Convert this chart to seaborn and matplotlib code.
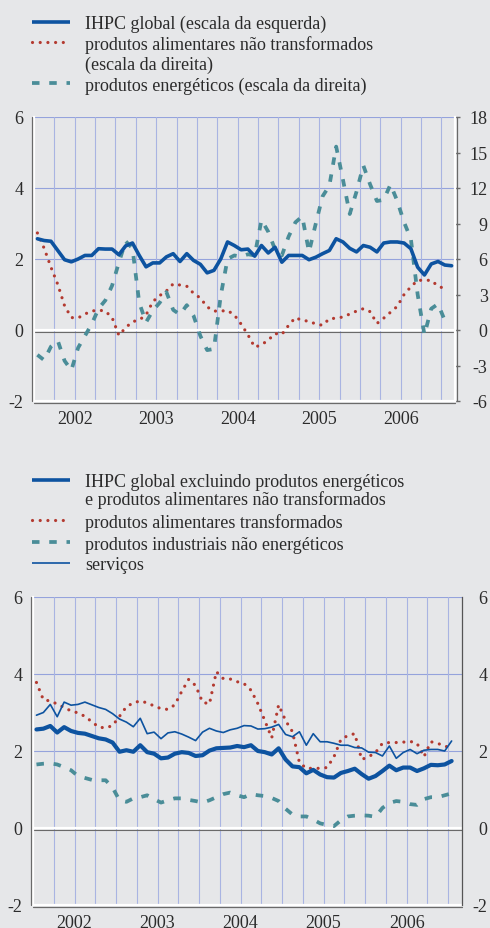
import numpy as np
import pandas as pd
import seaborn as sns
import matplotlib
matplotlib.use("Agg")
import matplotlib.pyplot as plt
import matplotlib.transforms as mtrans
from matplotlib.lines import Line2D

# ---------------- data (monthly, Jan 2002 onward) ----------------
years = ["2002", "2003", "2004", "2005", "2006"]

ihpc_global = [2.57, 2.52, 2.5, 2.24, 1.98, 1.92, 2.0, 2.1, 2.1, 2.29, 2.28, 2.28,
               2.12, 2.37, 2.45, 2.1, 1.78, 1.89, 1.89, 2.06, 2.15, 1.93, 2.15, 1.96,
               1.85, 1.61, 1.68, 2.0, 2.48, 2.38, 2.26, 2.28, 2.08, 2.38, 2.17, 2.33,
               1.91, 2.1, 2.1, 2.1, 1.98, 2.05, 2.15, 2.24, 2.57, 2.48, 2.3, 2.2,
               2.38, 2.33, 2.2, 2.45, 2.48, 2.48, 2.45, 2.29, 1.77, 1.55, 1.86, 1.93,
               1.83, 1.81]

alim_nao_transf = [8.2, 6.9, 5.3, 3.85, 2.05, 1.05, 1.02, 1.35, 1.6, 1.68, 1.6, 1.05,
                   -0.45, 0.2, 0.7, 0.85, 1.27, 2.4, 2.9, 3.3, 3.9, 3.8, 3.7, 3.1,
                   2.7, 1.95, 1.6, 1.6, 1.65, 1.27, 0.5, -0.4, -1.45, -1.25, -0.85, -0.3,
                   -0.38, 0.4, 1.05, 0.8, 0.75, 0.5, 0.4, 0.95, 1.0, 1.1, 1.35, 1.6,
                   1.8, 1.55, 0.55, 1.0, 1.5, 2.0, 3.0, 3.65, 4.2, 4.2, 4.2, 3.7,
                   3.5]

energeticos = [-2.1, -2.55, -1.4, -0.9, -2.6, -3.4, -1.5, -0.5, 0.5, 1.8, 2.5, 3.75,
               5.7, 7.5, 6.9, 2.3, 0.65, 1.65, 2.3, 3.2, 1.7, 1.3, 2.1, 1.2,
               -0.5, -1.7, -1.6, 2.9, 6.0, 6.3, 6.2, 6.4, 6.3, 9.3, 8.3, 6.8,
               6.3, 7.9, 9.1, 9.6, 6.6, 9.0, 11.3, 12.2, 15.5, 12.7, 9.8, 11.7,
               13.9, 12.3, 10.9, 11.0, 12.3, 10.9, 9.1, 7.7, 3.0, -0.4, 1.8, 2.2,
               0.8]

ihpc_core = [2.56, 2.58, 2.65, 2.48, 2.62, 2.52, 2.47, 2.45, 2.39, 2.33, 2.3, 2.22,
             1.98, 2.02, 1.98, 2.15, 1.97, 1.93, 1.81, 1.83, 1.93, 1.97, 1.95, 1.87,
             1.89, 2.01, 2.07, 2.08, 2.09, 2.13, 2.1, 2.15, 2.0, 1.97, 1.91, 2.07,
             1.78, 1.6, 1.58, 1.42, 1.51, 1.39, 1.32, 1.31, 1.43, 1.48, 1.54, 1.4,
             1.28, 1.35, 1.48, 1.62, 1.5, 1.57, 1.57, 1.48, 1.55, 1.64, 1.63, 1.65,
             1.74]

alim_transf = [3.78, 3.33, 3.3, 3.22, 3.13, 3.04, 2.99, 2.9, 2.76, 2.62, 2.6, 2.66,
               2.9, 3.15, 3.25, 3.3, 3.25, 3.17, 3.1, 3.08, 3.2, 3.55, 3.86, 3.7,
               3.27, 3.22, 4.06, 3.88, 3.87, 3.8, 3.75, 3.58, 3.23, 2.79, 2.34, 3.2,
               2.79, 2.5, 1.7, 1.55, 1.55, 1.55, 1.57, 1.85, 2.3, 2.4, 2.45, 1.78,
               1.85, 1.96, 2.2, 2.22, 2.22, 2.23, 2.25, 2.2, 1.85, 2.24, 2.2, 2.12,
               2.1]

industriais = [1.65, 1.67, 1.68, 1.65, 1.58, 1.5, 1.35, 1.3, 1.25, 1.24, 1.24, 1.05,
               0.72, 0.68, 0.77, 0.8, 0.85, 0.75, 0.66, 0.72, 0.77, 0.77, 0.73, 0.7,
               0.66, 0.72, 0.8, 0.88, 0.92, 0.85, 0.8, 0.88, 0.85, 0.83, 0.78, 0.7,
               0.5, 0.35, 0.3, 0.3, 0.22, 0.12, 0.08, 0.05, 0.2, 0.3, 0.32, 0.33,
               0.32, 0.29, 0.52, 0.65, 0.7, 0.68, 0.62, 0.6, 0.75, 0.8, 0.8, 0.85,
               0.9]

servicos = [2.93, 3.0, 3.21, 2.89, 3.27, 3.19, 3.21, 3.27, 3.2, 3.13, 3.08, 2.97,
            2.83, 2.75, 2.63, 2.85, 2.45, 2.49, 2.32, 2.47, 2.5, 2.44, 2.36, 2.27,
            2.49, 2.59, 2.52, 2.48, 2.55, 2.59, 2.66, 2.65, 2.57, 2.58, 2.62, 2.69,
            2.43, 2.37, 2.5, 2.15, 2.45, 2.24, 2.24, 2.2, 2.15, 2.15, 2.09, 2.08,
            1.97, 1.96, 1.87, 2.13, 1.81, 1.96, 2.04, 1.93, 2.02, 2.04, 2.04, 2.0,
            2.26]

left_ticks = [-2, 0, 2, 4, 6]
right_ticks_top = [-6, -3, 0, 3, 6, 9, 12, 15, 18]

legend_top = ["IHPC global (escala da esquerda)",
              "produtos alimentares não transformados\n(escala da direita)",
              "produtos energéticos (escala da direita)"]
legend_bot = ["IHPC global excluindo produtos energéticos\ne produtos alimentares não transformados",
              "produtos alimentares transformados",
              "produtos industriais não energéticos",
              "serviços"]

# ---------------- style ----------------
sns.set_style("white")
plt.rcParams["font.family"] = ["Liberation Serif", "DejaVu Serif"]

BG = "#e6e7e9"
BLUE = "#0d53a0"
RED = "#b33a30"
TEAL = "#4a8d98"
GRID_H = "#95a3dc"
GRID_V = "#a9b4e2"
SHADOW = "#6a6a6a"
TXT = "#2b2b2b"
FS = 13

W, H = 490, 929
fig = plt.figure(figsize=(W / 100, H / 100), dpi=100, facecolor=BG)


def rect(l, t, r, b):
    return [l / W, 1 - b / H, (r - l) / W, (b - t) / H]


DOT = (0, (0.01, 2.4))
DASH = (0, (2.0, 2.6))


def frame(ax, low_ax):
    for q in range(3, 61, 3):
        low_ax.axvline(q, color=GRID_V, lw=0.8, zorder=0)
    for s in ["top", "right"]:
        ax.spines[s].set_visible(False)
    for s in ["left", "bottom"]:
        ax.spines[s].set_color("white")
        ax.spines[s].set_linewidth(1.6)
        ax.spines[s].set_zorder(5)
    tl = mtrans.offset_copy(ax.transAxes, fig=fig, x=-1.6, y=0, units="dots")
    ax.plot([0, 0], [0, 1], transform=tl, color=SHADOW, lw=0.9, clip_on=False, zorder=6)
    tb = mtrans.offset_copy(ax.transAxes, fig=fig, x=0, y=-1.6, units="dots")
    ax.plot([0, 1], [0, 0], transform=tb, color=SHADOW, lw=0.9, clip_on=False, zorder=6)
    ax.set_xlim(0, 62)
    ax.set_xticks([0, 12, 24, 36, 48, 60])
    ax.set_xticks([q for q in range(3, 61, 3) if q % 12], minor=True)
    ax.tick_params(axis="x", which="major", length=6, width=1.0, color=SHADOW,
                   direction="out", labelbottom=False)
    ax.tick_params(axis="x", which="minor", length=3, width=1.0, color=SHADOW,
                   direction="out")
    ty = mtrans.offset_copy(ax.get_xaxis_transform(), fig=fig, x=0, y=-9, units="dots")
    for k, yr in enumerate(years):
        ax.text(6 + 12 * k, 0, yr, transform=ty, ha="center", va="top",
                fontsize=FS, color=TXT)
    ax.set_ylim(-2, 6)
    ax.set_yticks(left_ticks)
    ax.set_yticklabels([str(v) for v in left_ticks])
    ax.tick_params(axis="y", length=0, pad=7.5, labelsize=FS, labelcolor=TXT)
    ax.set_xlabel("")
    ax.set_ylabel("")


def zero_line(a, y0):
    a.axhline(y0, color="white", lw=1.6, zorder=1)
    tz = mtrans.offset_copy(a.get_yaxis_transform(), fig=fig, x=0, y=-1.6, units="dots")
    a.plot([0, 1], [y0, y0], transform=tz, color=SHADOW, lw=0.8, zorder=1)


# ---------------- top panel ----------------
ax = fig.add_axes(rect(34, 118, 455, 402))
ax2 = ax.twinx()
ax.set_zorder(2)
ax2.set_zorder(1)
ax.patch.set_visible(False)
ax2.patch.set_visible(False)

x_top = np.arange(len(ihpc_global)) + 0.5
x_r = np.arange(len(alim_nao_transf)) + 0.5
x_e = np.arange(len(energeticos)) + 0.5

for v in [2, 4, 6]:
    ax2.axhline(3 * v, color=GRID_H, lw=0.8, zorder=0)
zero_line(ax2, 0)

sns.lineplot(x=x_r, y=alim_nao_transf, ax=ax2, color=RED, linewidth=2.3,
             linestyle=DOT, dash_capstyle="round", zorder=3)
sns.lineplot(x=x_e, y=energeticos, ax=ax2, color=TEAL, linewidth=2.7,
             linestyle=DASH, dash_capstyle="butt", zorder=3)
sns.lineplot(x=x_top, y=ihpc_global, ax=ax, color=BLUE, linewidth=2.6, zorder=4)

frame(ax, ax2)
ax2.set_ylim(-6, 18)
ax2.set_xlim(0, 62)
ax2.set_yticks(right_ticks_top)
ax2.set_yticklabels([str(v) for v in right_ticks_top])
ax2.tick_params(axis="y", length=3.5, width=1.0, color=SHADOW, direction="out",
                pad=20, labelsize=FS, labelcolor=TXT)
for t in ax2.get_yticklabels():
    t.set_horizontalalignment("right")
ax2.tick_params(axis="x", bottom=False, labelbottom=False)
for s in ["left", "top", "bottom"]:
    ax2.spines[s].set_visible(False)
ax2.spines["right"].set_color("white")
ax2.spines["right"].set_linewidth(1.6)
tr = mtrans.offset_copy(ax2.transAxes, fig=fig, x=1.6, y=0, units="dots")
ax2.plot([1, 1], [0, 1], transform=tr, color=SHADOW, lw=0.9, clip_on=False)
ax2.set_ylabel("")

# ---------------- bottom panel ----------------
bx2 = fig.add_axes(rect(33, 598, 462, 906))
bx = bx2.twinx()
bx.set_zorder(2)
bx2.set_zorder(1)
bx.patch.set_visible(False)
bx2.patch.set_visible(False)

x_b = np.arange(len(ihpc_core)) + 0.5
bx2.set_ylim(-2, 6)
for v in [2, 4, 6]:
    bx2.axhline(v, color=GRID_H, lw=0.8, zorder=0)
zero_line(bx2, 0)

sns.lineplot(x=x_b, y=industriais, ax=bx, color=TEAL, linewidth=2.7,
             linestyle=DASH, dash_capstyle="butt", zorder=3)
sns.lineplot(x=x_b, y=alim_transf, ax=bx, color=RED, linewidth=2.3,
             linestyle=DOT, dash_capstyle="round", zorder=3)
sns.lineplot(x=x_b, y=servicos, ax=bx, color=BLUE, linewidth=1.2, zorder=4)
sns.lineplot(x=x_b, y=ihpc_core, ax=bx, color=BLUE, linewidth=3.0, zorder=5)

frame(bx2, bx2)
bx.set_ylim(-2, 6)
bx.set_xlim(0, 62)
bx.set_yticks(left_ticks)
bx.set_yticklabels([str(v) for v in left_ticks])
bx.tick_params(axis="y", length=0, pad=18.5, labelsize=FS, labelcolor=TXT)
for t in bx.get_yticklabels():
    t.set_horizontalalignment("right")
bx.tick_params(axis="x", bottom=False, labelbottom=False)
for s in ["left", "top", "bottom"]:
    bx.spines[s].set_visible(False)
bx.spines["right"].set_color("#555555")
bx.spines["right"].set_linewidth(0.9)
bx.set_ylabel("")

# ---------------- legends (drawn in figure pixels) ----------------
def fx(p):
    return p / W


def fy(p):
    return 1 - p / H


def handle(y, color, lw, ls, cap="butt"):
    fig.add_artist(Line2D([fx(32), fx(70)], [fy(y), fy(y)], color=color, lw=lw,
                          linestyle=ls, dash_capstyle=cap, solid_capstyle="butt"))


def label(y, s):
    fig.text(fx(85), fy(y), s, ha="left", va="center_baseline", fontsize=FS, color=TXT)


handle(22.5, BLUE, 2.6, "-")
label(22.5, legend_top[0])
handle(43, RED, 2.3, DOT, "round")
l1, l2 = legend_top[1].split("\n")
label(43, l1)
label(63, l2)
handle(84, TEAL, 2.7, DASH)
label(84, legend_top[2])

handle(481, BLUE, 2.6, "-")
m1, m2 = legend_bot[0].split("\n")
label(481, m1)
label(498, m2)
handle(521, RED, 2.3, DOT, "round")
label(521, legend_bot[1])
handle(543, TEAL, 2.7, DASH)
label(543, legend_bot[2])
handle(564, BLUE, 1.2, "-")
label(564, legend_bot[3])

fig.savefig("out.png", dpi=100, facecolor=BG)
